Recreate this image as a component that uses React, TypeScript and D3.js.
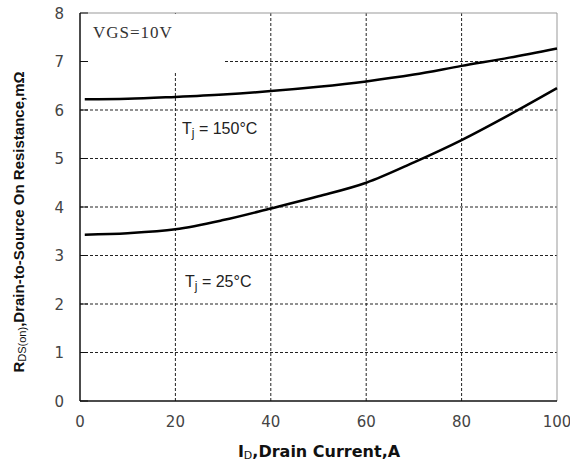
import * as d3 from "d3";

const current = [1, 10, 20, 30, 40, 50, 60, 70, 80, 90, 100];
const rds150 = [6.22, 6.23, 6.27, 6.32, 6.39, 6.48, 6.59, 6.73, 6.91, 7.08, 7.27];
const rds25 = [3.43, 3.46, 3.54, 3.73, 3.97, 4.22, 4.5, 4.92, 5.38, 5.9, 6.45];
const xTicks = [0, 20, 40, 60, 80, 100];
const yTicks = [0, 1, 2, 3, 4, 5, 6, 7, 8];

const W = 570;
const H = 466;
const M = { top: 13, right: 13, bottom: 65, left: 80 };

export default function App() {
  const x = d3.scaleLinear().domain([0, 100]).range([M.left, W - M.right]);
  const y = d3.scaleLinear().domain([0, 8]).range([H - M.bottom, M.top]);

  const line = d3
    .line<number>()
    .x((_, i) => x(current[i]))
    .y((d) => y(d))
    .curve(d3.curveMonotoneX);

  const sans = "'Liberation Sans', Arial, sans-serif";
  const wide = "'DejaVu Sans', Verdana, sans-serif";
  const dash = "3,2";

  return (
    <svg width={W} height={H} style={{ position: "absolute", left: 0, top: 0, background: "#fff" }}>
      {/* dashed grid */}
      {yTicks.slice(1, -1).map((t) => (
        <line key={"gy" + t} x1={x(0)} x2={x(100)} y1={y(t)} y2={y(t)}
          stroke="#222" strokeWidth={1} strokeDasharray={dash} />
      ))}
      {xTicks.slice(1, -1).map((t) => (
        <line key={"gx" + t} x1={x(t)} x2={x(t)} y1={y(0)} y2={y(8)}
          stroke="#222" strokeWidth={1} strokeDasharray={dash} />
      ))}
      {/* label box hides grid in corner */}
      <rect x={x(0) + 1} y={y(8) + 1} width={x(30) - x(0)} height={y(6.8) - y(8)} fill="#fff" />

      {/* frame */}
      <line x1={x(0)} x2={x(100)} y1={y(8)} y2={y(8)} stroke="#999" strokeWidth={1} />
      <line x1={x(100)} x2={x(100)} y1={y(8)} y2={y(0)} stroke="#999" strokeWidth={1} />
      <line x1={x(0)} x2={x(0)} y1={y(8)} y2={y(0)} stroke="#111" strokeWidth={1.5} />
      <line x1={x(0)} x2={x(100)} y1={y(0)} y2={y(0)} stroke="#111" strokeWidth={1.5} />

      {yTicks.map((t) => (
        <g key={"ty" + t}>
          <line x1={x(0)} x2={x(0) + 8} y1={y(t)} y2={y(t)} stroke="#111" strokeWidth={1} />
          <text x={64} y={y(t) + 5.5} textAnchor="end" fontFamily={wide} fontSize={15} fill="#444">
            {t}
          </text>
        </g>
      ))}
      {xTicks.map((t) => (
        <text key={"tx" + t} x={x(t)} y={427} textAnchor="middle" fontFamily={wide} fontSize={15} fill="#444">
          {t}
        </text>
      ))}

      {/* curves */}
      <path d={line(rds150) ?? ""} fill="none" stroke="#000" strokeWidth={2.5} />
      <path d={line(rds25) ?? ""} fill="none" stroke="#000" strokeWidth={2.5} />

      {/* annotations */}
      <text x={93} y={38} fontFamily="'Liberation Serif', 'Times New Roman', serif" fontSize={17}
        letterSpacing={1} fill="#333">
        VGS=10V
      </text>
      <text x={182} y={134} fontFamily={sans} fontSize={16} fill="#222">
        T<tspan fontSize={12} dy={3}>j</tspan><tspan dy={-3}> = 150°C</tspan>
      </text>
      <text x={185} y={287} fontFamily={sans} fontSize={16} fill="#222">
        T<tspan fontSize={12} dy={3}>j</tspan><tspan dy={-3}> = 25°C</tspan>
      </text>

      {/* axis titles */}
      <text x={319} y={457} textAnchor="middle" fontFamily={wide} fontSize={16} fontWeight="bold" fill="#111">
        I<tspan fontSize={11} fontWeight="normal" dy={2}>D</tspan><tspan dy={-2}>,Drain Current,A</tspan>
      </text>
      <text transform={`translate(24,222) rotate(-90)`} textAnchor="middle" fontFamily={sans} fontSize={15}
        fontWeight="bold" fill="#111">
        R<tspan fontSize={11} fontWeight="normal" dy={2}>DS(on)</tspan><tspan dy={-2}>,Drain-to-Source On Resistance,mΩ</tspan>
      </text>
    </svg>
  );
}
